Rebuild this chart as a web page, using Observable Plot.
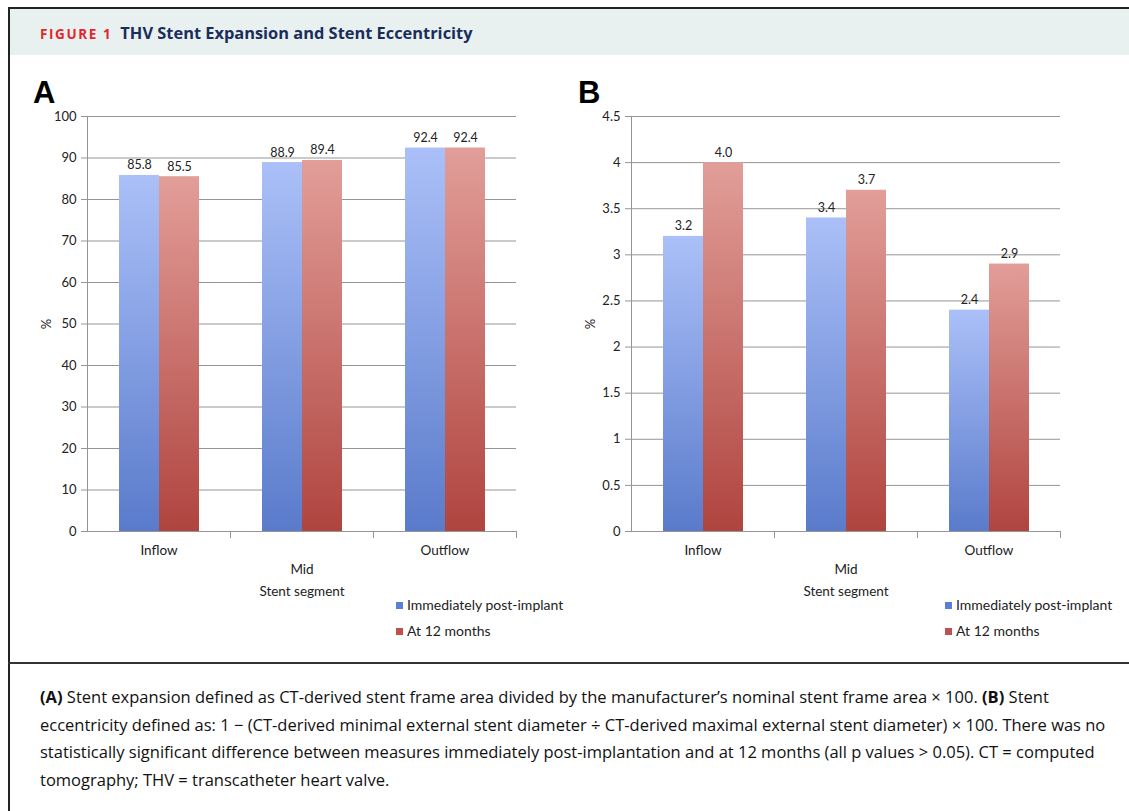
<!DOCTYPE html>
<html>
<head>
<meta charset="utf-8">
<script src="https://cdn.jsdelivr.net/npm/d3@7"></script>
<script src="https://cdn.jsdelivr.net/npm/@observablehq/plot@0.6"></script>
<style>
  html, body { margin: 0; padding: 0; background: #fff; overflow: hidden; }
  .abs { position: absolute; }
  #frame { left: 8px; top: 7px; width: 1121px; height: 804px; border-left: 2px solid #222; border-top: 2px solid #222; box-sizing: border-box; }
  #header { left: 10px; top: 9px; width: 1119px; height: 46px; background: #e8f1f0; line-height: 47px; font-family: "Open Sans", sans-serif; font-weight: 700; white-space: nowrap; }
  #header .fig { color: #e2262d; font-size: 13.5px; letter-spacing: 1.6px; margin-left: 30px; }
  #header .title { color: #1b2d5b; font-size: 16.4px; margin-left: 8px; }
  #sep { left: 8px; top: 662px; width: 1121px; height: 2px; background: #333; }
  #caption { left: 40px; top: 683px; font-family: "Open Sans", sans-serif; font-size: 16.5px; line-height: 27.5px; color: #111; white-space: nowrap; }
  .letter { font-family: "Liberation Sans", Arial, sans-serif; font-weight: 700; font-size: 31px; color: #000; }
  .legend { font-family: "Lato", sans-serif; font-size: 14px; color: #222; line-height: 26px; white-space: nowrap; }
  .legend .sw { display: inline-block; width: 7px; height: 7px; margin-right: 4px; vertical-align: 1px; }
</style>
</head>
<body>
<svg width="0" height="0" style="position:absolute">
  <defs>
    <linearGradient id="gradBlue" x1="0" y1="0" x2="0" y2="1">
      <stop offset="0" stop-color="#abc0f8"/>
      <stop offset="1" stop-color="#5a7bcb"/>
    </linearGradient>
    <linearGradient id="gradRed" x1="0" y1="0" x2="0" y2="1">
      <stop offset="0" stop-color="#e29e99"/>
      <stop offset="1" stop-color="#b0443f"/>
    </linearGradient>
  </defs>
</svg>
<div id="frame" class="abs"></div>
<div id="header" class="abs"><span class="fig">FIGURE 1</span><span class="title">THV Stent Expansion and Stent Eccentricity</span></div>
<div class="abs letter" style="left:33px; top:75px;">A</div>
<div class="abs letter" style="left:578px; top:75px;">B</div>
<div id="chartA" class="abs" style="left:0px; top:100px;"></div>
<div id="chartB" class="abs" style="left:544px; top:100px;"></div>
<div id="legendA" class="abs legend" style="left:396px; top:592px;"></div>
<div id="legendB" class="abs legend" style="left:945px; top:592px;"></div>
<div id="sep" class="abs"></div>
<div id="caption" class="abs"><b>(A)</b> Stent expansion defined as CT-derived stent frame area divided by the manufacturer’s nominal stent frame area × 100. <b>(B)</b> Stent<br>eccentricity defined as: 1 − (CT-derived minimal external stent diameter ÷ CT-derived maximal external stent diameter) × 100. There was no<br>statistically significant difference between measures immediately post-implantation and at 12 months (all p values &gt; 0.05). CT = computed<br>tomography; THV = transcatheter heart valve.</div>
<script>
// ---- Data ----
const segments = ["Inflow", "Mid", "Outflow"];
const seriesNames = ["Immediately post-implant", "At 12 months"];
const seriesColors = ["#5b7fd3", "#c0504d"];
// Panel A: stent expansion (%)
const expansionPost = [85.8, 88.9, 92.4];
const expansion12 = [85.5, 89.4, 92.4];
// Panel B: stent eccentricity (%)
const eccentricityPost = [3.2, 3.4, 2.4];
const eccentricity12 = [4.0, 3.7, 2.9];
// Axis ticks
const yTicksA = [0, 10, 20, 30, 40, 50, 60, 70, 80, 90, 100];
const yTicksB = [0, 0.5, 1, 1.5, 2, 2.5, 3, 3.5, 4, 4.5];
const xAxisTitle = "Stent segment";
const yAxisTitle = "%";

function rowsOf(post, twelve) {
  return segments.flatMap((s, i) => [
    {segment: s, series: seriesNames[0], value: post[i]},
    {segment: s, series: seriesNames[1], value: twelve[i]}
  ]);
}

const GRID = "#959595";
const W = 580, H = 560, MT = 16, MB = 129, ML = 87, MR = 64;
const plotH = H - MT - MB;

function chart(rows, yTicks) {
  return Plot.plot({
    width: W, height: H,
    marginLeft: ML, marginRight: MR, marginTop: MT, marginBottom: MB,
    style: {fontFamily: "Lato, sans-serif", fontSize: "13px", color: "#222", background: "transparent", overflow: "visible"},
    fx: {domain: segments, padding: 0, axis: null},
    x: {domain: seriesNames, paddingInner: 0, paddingOuter: 0.744, axis: null},
    y: {domain: [yTicks[0], yTicks[yTicks.length - 1]], axis: null},
    color: {domain: seriesNames, range: ["url(#gradBlue)", "url(#gradRed)"]},
    marks: [
      Plot.gridY(yTicks, {stroke: GRID, strokeOpacity: 1}),
      Plot.frame({anchor: "left", stroke: GRID, facetAnchor: "left"}),
      Plot.frame({anchor: "right", stroke: GRID, insetTop: plotH, insetBottom: -6}),
      Plot.barY(rows, {fx: "segment", x: "series", y: "value", fill: "series"}),
      Plot.text(rows, {fx: "segment", x: "series", y: "value", text: d => d3.format(".1f")(d.value), dy: -10, fontSize: 12.5, fill: "#222"}),
      Plot.axisY({ticks: yTicks, tickFormat: d => String(d), tickSize: 6, tickPadding: 5, stroke: GRID, fontSize: 13, label: yAxisTitle, labelAnchor: "center", labelOffset: 46, labelArrow: "none"}),
      Plot.axisFx({anchor: "bottom", ticks: [segments[0], segments[2]], tickSize: 0, tickPadding: 14, fontSize: 13.5, label: null}),
      Plot.axisFx({anchor: "bottom", ticks: [segments[1]], tickSize: 0, tickPadding: 33, fontSize: 13.5, label: xAxisTitle, labelAnchor: "center", labelOffset: 64, labelArrow: "none"})
    ]
  });
}

document.getElementById("chartA").append(chart(rowsOf(expansionPost, expansion12), yTicksA));
document.getElementById("chartB").append(chart(rowsOf(eccentricityPost, eccentricity12), yTicksB));

for (const id of ["legendA", "legendB"]) {
  const el = document.getElementById(id);
  seriesNames.forEach((n, i) => {
    const row = document.createElement("div");
    const sw = document.createElement("span");
    sw.className = "sw";
    sw.style.background = seriesColors[i];
    row.append(sw, document.createTextNode(n));
    el.append(row);
  });
}
</script>
</body>
</html>
